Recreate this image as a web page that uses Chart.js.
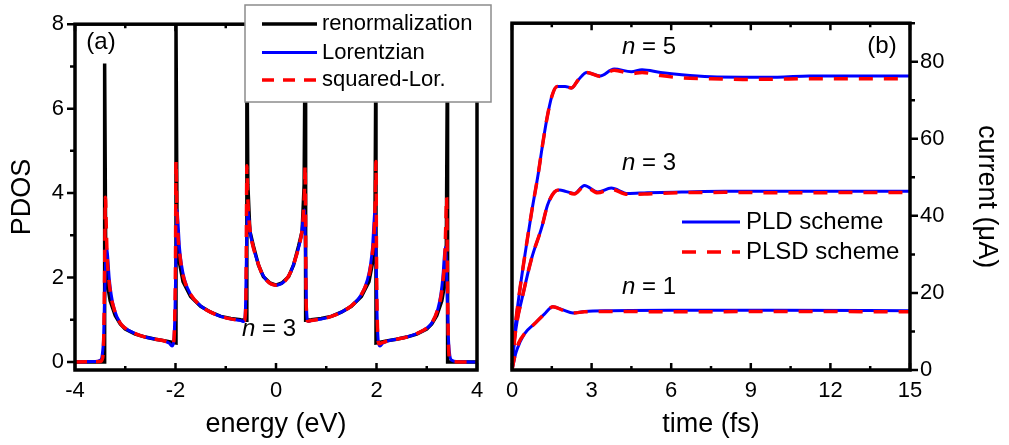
<!DOCTYPE html>
<html>
<head>
<meta charset="utf-8">
<script src="https://cdn.jsdelivr.net/npm/chart.js@4.4.0/dist/chart.umd.min.js"></script>
<style>
  html, body { margin: 0; padding: 0; background: #fff; }
  #wrap { position: relative; width: 1009px; height: 445px; }
  #boxA { position: absolute; left: 0; top: 0; width: 497px; height: 445px; }
  #boxB { position: absolute; left: 497px; top: 0; width: 512px; height: 445px; }
</style>
</head>
<body>
<div id="wrap">
  <div id="boxA"><canvas id="pdosChart"></canvas></div>
  <div id="boxB"><canvas id="currentChart"></canvas></div>
</div>
<script>
// ---- panel (a): PDOS vs energy, points are [energy (eV), PDOS] ----
const renormPts = [
  [-4.0, 0], [-3.42, 0], [-3.41, 0], [-3.41, 7.07], [-3.39, 2.8], [-3.35, 1.8], [-3.3, 1.45],
  [-3.2, 1.1], [-3.1, 0.9], [-3.0, 0.78], [-2.8, 0.66], [-2.6, 0.59], [-2.4, 0.54], [-2.2, 0.5],
  [-2.05, 0.46], [-1.99, 0.45], [-1.99, 8], [-1.97, 3.3], [-1.93, 2.4], [-1.85, 1.9], [-1.7, 1.55],
  [-1.5, 1.32], [-1.3, 1.18], [-1.1, 1.08], [-0.9, 1.03], [-0.7, 1.0], [-0.59, 0.99], [-0.58, 8],
  [-0.56, 4.2], [-0.52, 3.1], [-0.45, 2.75], [-0.35, 2.3], [-0.25, 2.02], [-0.12, 1.87], [0, 1.82],
  [0.12, 1.87], [0.25, 2.02], [0.35, 2.3], [0.45, 2.75], [0.52, 3.1], [0.56, 4.2], [0.58, 8],
  [0.59, 0.99], [0.7, 1.0], [0.9, 1.03], [1.1, 1.08], [1.3, 1.18], [1.5, 1.32], [1.7, 1.55],
  [1.85, 1.9], [1.93, 2.4], [1.97, 3.3], [1.99, 8], [1.99, 0.45], [2.05, 0.46], [2.2, 0.5],
  [2.4, 0.54], [2.6, 0.59], [2.8, 0.66], [3.0, 0.78], [3.1, 0.9], [3.2, 1.1], [3.3, 1.45],
  [3.35, 1.8], [3.39, 2.8], [3.41, 7.07], [3.41, 0], [3.42, 0], [4.0, 0]
];
const lorentzPts = [
  [-4.0, 0], [-3.6, 0.01], [-3.5, 0.04], [-3.46, 0.15], [-3.43, 0.6], [-3.41, 1.5], [-3.39, 2.4],
  [-3.37, 2.72], [-3.35, 2.5], [-3.32, 2.0], [-3.28, 1.6], [-3.22, 1.25], [-3.1, 0.92], [-3.0, 0.8],
  [-2.8, 0.67], [-2.6, 0.59], [-2.4, 0.54], [-2.2, 0.49], [-2.12, 0.44], [-2.07, 0.38], [-2.04, 0.45],
  [-2.01, 1.2], [-1.99, 2.6], [-1.97, 3.6], [-1.95, 3.3], [-1.92, 2.7], [-1.88, 2.3], [-1.82, 1.95],
  [-1.7, 1.6], [-1.5, 1.33], [-1.3, 1.18], [-1.1, 1.08], [-0.9, 1.02], [-0.7, 0.98], [-0.64, 0.96],
  [-0.61, 1.2], [-0.59, 2.4], [-0.565, 3.6], [-0.54, 3.4], [-0.51, 3.05], [-0.47, 2.8], [-0.4, 2.5],
  [-0.3, 2.15], [-0.2, 1.95], [-0.1, 1.85], [0, 1.82], [0.1, 1.85], [0.2, 1.95], [0.3, 2.15],
  [0.4, 2.5], [0.47, 2.8], [0.51, 3.05], [0.54, 3.4], [0.565, 3.6], [0.59, 2.4], [0.61, 1.2],
  [0.64, 0.96], [0.7, 0.98], [0.9, 1.02], [1.1, 1.08], [1.3, 1.18], [1.5, 1.33], [1.7, 1.6],
  [1.82, 1.95], [1.88, 2.3], [1.92, 2.7], [1.95, 3.3], [1.97, 3.6], [1.99, 2.6], [2.01, 1.2],
  [2.04, 0.45], [2.07, 0.38], [2.12, 0.44], [2.2, 0.49], [2.4, 0.54], [2.6, 0.59], [2.8, 0.67],
  [3.0, 0.8], [3.1, 0.92], [3.22, 1.25], [3.28, 1.6], [3.32, 2.0], [3.35, 2.5], [3.37, 2.72],
  [3.39, 2.4], [3.41, 1.5], [3.43, 0.6], [3.46, 0.15], [3.5, 0.04], [3.6, 0.01], [4.0, 0]
];
const sqLorPts = [
  [-4.0, 0], [-3.5, 0.01], [-3.46, 0.06], [-3.43, 0.5], [-3.41, 2.2], [-3.395, 3.9], [-3.38, 3.3],
  [-3.36, 2.5], [-3.33, 2.0], [-3.29, 1.6], [-3.22, 1.25], [-3.1, 0.92], [-3.0, 0.8], [-2.8, 0.67],
  [-2.6, 0.59], [-2.4, 0.54], [-2.2, 0.49], [-2.1, 0.45], [-2.05, 0.43], [-2.02, 0.8], [-2.0, 2.5],
  [-1.99, 4.75], [-1.975, 3.8], [-1.95, 3.0], [-1.91, 2.5], [-1.86, 2.1], [-1.8, 1.85], [-1.7, 1.6],
  [-1.5, 1.33], [-1.3, 1.18], [-1.1, 1.08], [-0.9, 1.02], [-0.7, 0.98], [-0.63, 0.97], [-0.6, 1.4],
  [-0.59, 3.0], [-0.58, 4.65], [-0.565, 4.0], [-0.54, 3.4], [-0.51, 3.05], [-0.47, 2.8], [-0.4, 2.5],
  [-0.3, 2.15], [-0.2, 1.95], [-0.1, 1.85], [0, 1.82], [0.1, 1.85], [0.2, 1.95], [0.3, 2.15],
  [0.4, 2.5], [0.47, 2.8], [0.51, 3.05], [0.54, 3.4], [0.565, 4.0], [0.58, 4.65], [0.59, 3.0],
  [0.6, 1.4], [0.63, 0.97], [0.7, 0.98], [0.9, 1.02], [1.1, 1.08], [1.3, 1.18], [1.5, 1.33],
  [1.7, 1.6], [1.8, 1.85], [1.86, 2.1], [1.91, 2.5], [1.95, 3.0], [1.975, 3.8], [1.99, 4.75],
  [2.0, 2.5], [2.02, 0.8], [2.05, 0.43], [2.1, 0.45], [2.2, 0.49], [2.4, 0.54], [2.6, 0.59],
  [2.8, 0.67], [3.0, 0.8], [3.1, 0.92], [3.22, 1.25], [3.29, 1.6], [3.33, 2.0], [3.36, 2.5],
  [3.38, 3.3], [3.395, 3.9], [3.41, 2.2], [3.43, 0.5], [3.46, 0.06], [3.5, 0.01], [4.0, 0]
];
const energyTicks = [-4, -2, 0, 2, 4];
const energyMinor = [-3, -1, 1, 3];
const pdosTicks = [0, 2, 4, 6, 8];
const pdosMinor = [1, 3, 5, 7];

// ---- panel (b): current vs time, points are [time (fs), current (uA)] ----
const pld5 = [
  [0, 0], [0.12, 11], [0.24, 18], [0.49, 30], [0.74, 41], [0.99, 51], [1.12, 57], [1.31, 65],
  [1.5, 71], [1.7, 73.6], [2.0, 73.6], [2.24, 73.2], [2.5, 75.3], [2.82, 77.2], [3.32, 76.3],
  [3.85, 78.1], [4.5, 77.4], [4.9, 77.9], [5.6, 77.2], [6.4, 76.6], [7.5, 76.1], [8.7, 76.0],
  [10.0, 76.0], [11.2, 76.3], [13.0, 76.3], [15.0, 76.3]
];
const plsd5 = [
  [0, 0], [0.12, 11], [0.24, 18], [0.49, 30], [0.74, 41], [0.99, 51], [1.12, 57], [1.31, 65],
  [1.5, 71], [1.7, 73.6], [2.0, 73.6], [2.24, 73.2], [2.5, 75.3], [2.82, 77.2], [3.32, 76.2],
  [3.85, 77.8], [4.5, 76.9], [4.9, 77.2], [5.6, 76.4], [6.4, 75.8], [7.5, 75.6], [8.7, 75.4],
  [10.0, 75.5], [11.2, 75.6], [13.0, 75.6], [15.0, 75.6]
];
const pld3 = [
  [0, 0], [0.1, 8], [0.2, 13], [0.36, 18], [0.74, 29], [1.12, 37], [1.34, 42.8], [1.6, 46.2],
  [1.8, 46.7], [2.0, 46.4], [2.35, 45.8], [2.73, 47.9], [3.23, 46.2], [3.74, 47.2], [4.36, 45.8],
  [5.1, 46.0], [6.4, 46.2], [8.0, 46.4], [10.0, 46.4], [15.0, 46.4]
];
const plsd3 = [
  [0, 0], [0.1, 8], [0.2, 13], [0.36, 18], [0.74, 29], [1.12, 37], [1.34, 42.8], [1.6, 46.2],
  [1.8, 46.7], [2.0, 46.4], [2.35, 45.7], [2.73, 47.7], [3.23, 46.0], [3.74, 46.9], [4.36, 45.6],
  [5.1, 45.7], [6.4, 46.0], [8.0, 46.1], [10.0, 46.0], [15.0, 46.1]
];
const pld1 = [
  [0, 0], [0.15, 4.5], [0.3, 7.2], [0.47, 9.4], [0.85, 12], [1.22, 14.5], [1.54, 16.4],
  [1.92, 15.6], [2.3, 14.8], [2.74, 15.2], [3.74, 15.4], [6.0, 15.5], [10.0, 15.5], [15.0, 15.4]
];
const plsd1 = [
  [0, 0], [0.1, 3.5], [0.25, 7.0], [0.47, 9.4], [0.85, 12], [1.22, 14.5], [1.54, 16.4],
  [1.92, 15.5], [2.3, 14.8], [2.74, 15.1], [3.74, 15.2], [6.0, 15.1], [10.0, 15.2], [15.0, 15.1]
];
const timeTicks = [0, 3, 6, 9, 12, 15];
const timeMinor = [1.5, 4.5, 7.5, 10.5, 13.5];
const currentTicks = [0, 20, 40, 60, 80];
const currentMinor = [10, 30, 50, 70, 90];

const FONT = "'Liberation Sans', Arial, sans-serif";
Chart.defaults.font.family = FONT;
Chart.defaults.color = '#000';

const BLUE = '#0000ff', RED = '#ff0000', BLACK = '#000000';
const xy = pts => pts.map(p => ({ x: p[0], y: p[1] }));

// frame + tick marks (x inward, y outward) drawn from the scales
function frameTicks(opts) {
  return {
    id: 'frameTicks',
    afterDatasetsDraw(chart) {
      const { ctx, chartArea: a, scales } = chart;
      const xs = scales.x, ys = scales.y;
      ctx.save();
      ctx.strokeStyle = BLACK;
      ctx.lineWidth = 2.5;
      ctx.beginPath();
      const xt = (vals, len) => vals.forEach(v => {
        const px = xs.getPixelForValue(v);
        ctx.moveTo(px, a.bottom); ctx.lineTo(px, a.bottom - len);
        ctx.moveTo(px, a.top); ctx.lineTo(px, a.top + len);
      });
      xt(opts.xMajor, 7);
      xt(opts.xMinor, 4);
      const yt = (vals, len) => vals.forEach(v => {
        const py = ys.getPixelForValue(v);
        if (opts.ySide === 'left') { ctx.moveTo(a.left, py); ctx.lineTo(a.left - len, py); }
        else { ctx.moveTo(a.right, py); ctx.lineTo(a.right + len, py); }
      });
      yt(opts.yMajor, 8);
      yt(opts.yMinor, 5);
      ctx.stroke();
      ctx.lineWidth = 3.5;
      ctx.strokeRect(a.left, a.top, a.right - a.left, a.bottom - a.top);
      ctx.restore();
    }
  };
}

function italicLabel(ctx, x, y, num) {
  ctx.font = 'italic 24px ' + FONT;
  ctx.textAlign = 'left';
  ctx.textBaseline = 'middle';
  ctx.fillStyle = BLACK;
  ctx.fillText('n', x, y);
  const w = ctx.measureText('n').width;
  ctx.font = '24px ' + FONT;
  ctx.fillText(' = ' + num, x + w, y);
}

function legendRow(ctx, ds, x0, x1, y, tx, size) {
  ctx.save();
  ctx.strokeStyle = ds.borderColor;
  ctx.lineWidth = ds.borderWidth;
  ctx.setLineDash(ds.borderDash || []);
  ctx.beginPath();
  ctx.moveTo(x0, y); ctx.lineTo(x1, y);
  ctx.stroke();
  ctx.restore();
  ctx.font = size + 'px ' + FONT;
  ctx.fillStyle = BLACK;
  ctx.textAlign = 'left';
  ctx.textBaseline = 'middle';
  ctx.fillText(ds.label, tx, y);
}

const notesA = {
  id: 'notesA',
  afterDraw(chart) {
    const ctx = chart.ctx;
    const ds = chart.data.datasets;
    ctx.save();
    ctx.font = '24px ' + FONT;
    ctx.fillStyle = BLACK;
    ctx.textAlign = 'center';
    ctx.textBaseline = 'middle';
    ctx.fillText('(a)', 101, 42);
    italicLabel(ctx, 242, 329, '3');
    // legend box
    ctx.fillStyle = '#ffffff';
    ctx.fillRect(245, 5, 246, 97);
    ctx.strokeStyle = '#8c8c8c';
    ctx.lineWidth = 1.5;
    ctx.strokeRect(245, 5, 246, 97);
    legendRow(ctx, ds[0], 262, 317, 24, 322, 22);
    legendRow(ctx, ds[1], 262, 317, 52.5, 322, 22);
    legendRow(ctx, ds[2], 262, 317, 80, 322, 22);
    ctx.restore();
  }
};

const notesB = {
  id: 'notesB',
  afterDraw(chart) {
    const ctx = chart.ctx;
    const ds = chart.data.datasets;
    ctx.save();
    ctx.font = '24px ' + FONT;
    ctx.fillStyle = BLACK;
    ctx.textAlign = 'center';
    ctx.textBaseline = 'middle';
    ctx.fillText('(b)', 385, 46);
    italicLabel(ctx, 125, 47, '5');
    italicLabel(ctx, 125, 163, '3');
    italicLabel(ctx, 125, 287, '1');
    legendRow(ctx, ds[0], 185, 243, 222, 249, 24);
    legendRow(ctx, ds[1], 185, 243, 252, 249, 24);
    ctx.restore();
  }
};

const tickFont = { size: 22 };
const titleFont = { size: 27 };

new Chart('pdosChart', {
  type: 'line',
  data: {
    datasets: [
      { label: 'renormalization', data: xy(renormPts), borderColor: BLACK, borderWidth: 3.5, tension: 0, order: 2 },
      { label: 'Lorentzian', data: xy(lorentzPts), borderColor: BLUE, borderWidth: 3, cubicInterpolationMode: 'monotone', order: 1 },
      { label: 'squared-Lor.', data: xy(sqLorPts), borderColor: RED, borderWidth: 3.5, borderDash: [12, 9], cubicInterpolationMode: 'monotone', order: 0 }
    ]
  },
  options: {
    responsive: true,
    maintainAspectRatio: false,
    animation: false,
    elements: { point: { radius: 0 } },
    layout: { padding: { top: 20, right: 20, left: 0, bottom: 0 } },
    plugins: { legend: { display: false }, tooltip: { enabled: false } },
    scales: {
      x: {
        type: 'linear', min: -4, max: 4,
        afterBuildTicks: s => { s.ticks = energyTicks.map(v => ({ value: v })); },
        afterFit: s => { s.height = 75; },
        grid: { display: false, drawTicks: false },
        border: { display: false },
        ticks: { padding: 8, font: tickFont, color: BLACK, maxRotation: 0, autoSkip: false },
        title: { display: true, text: 'energy (eV)', font: titleFont, color: BLACK, padding: { top: 0, bottom: 4 } }
      },
      y: {
        type: 'linear', min: -0.19, max: 8,
        afterBuildTicks: s => { s.ticks = pdosTicks.map(v => ({ value: v })); },
        afterFit: s => { s.width = 75; },
        grid: { display: false, drawTicks: false },
        border: { display: false },
        ticks: { padding: 11, font: tickFont, color: BLACK, autoSkip: false },
        title: { display: true, text: 'PDOS', font: titleFont, color: BLACK, padding: { top: 6, bottom: 0 } }
      }
    }
  },
  plugins: [frameTicks({ xMajor: energyTicks, xMinor: energyMinor, yMajor: pdosTicks, yMinor: pdosMinor, ySide: 'left' }), notesA]
});

new Chart('currentChart', {
  type: 'line',
  data: {
    datasets: [
      { label: 'PLD scheme', data: xy(pld5), borderColor: BLUE, borderWidth: 3, cubicInterpolationMode: 'monotone', order: 1 },
      { label: 'PLSD scheme', data: xy(plsd5), borderColor: RED, borderWidth: 3.5, borderDash: [14, 11], cubicInterpolationMode: 'monotone', order: 0 },
      { label: 'PLD n=3', data: xy(pld3), borderColor: BLUE, borderWidth: 3, cubicInterpolationMode: 'monotone', order: 1 },
      { label: 'PLSD n=3', data: xy(plsd3), borderColor: RED, borderWidth: 3.5, borderDash: [14, 11], cubicInterpolationMode: 'monotone', order: 0 },
      { label: 'PLD n=1', data: xy(pld1), borderColor: BLUE, borderWidth: 3, cubicInterpolationMode: 'monotone', order: 1 },
      { label: 'PLSD n=1', data: xy(plsd1), borderColor: RED, borderWidth: 3.5, borderDash: [14, 11], cubicInterpolationMode: 'monotone', order: 0 }
    ]
  },
  options: {
    responsive: true,
    maintainAspectRatio: false,
    animation: false,
    elements: { point: { radius: 0 } },
    layout: { padding: { top: 20, right: 0, left: 15, bottom: 0 } },
    plugins: { legend: { display: false }, tooltip: { enabled: false } },
    scales: {
      x: {
        type: 'linear', min: 0, max: 15,
        afterBuildTicks: s => { s.ticks = timeTicks.map(v => ({ value: v })); },
        afterFit: s => { s.height = 75; },
        grid: { display: false, drawTicks: false },
        border: { display: false },
        ticks: { padding: 8, font: tickFont, color: BLACK, maxRotation: 0, autoSkip: false },
        title: { display: true, text: 'time (fs)', font: titleFont, color: BLACK, padding: { top: 0, bottom: 4 } }
      },
      y: {
        type: 'linear', position: 'right', min: 0, max: 90,
        afterBuildTicks: s => { s.ticks = currentTicks.map(v => ({ value: v })); },
        afterFit: s => { s.width = 99; },
        grid: { display: false, drawTicks: false },
        border: { display: false },
        ticks: { padding: 10, font: tickFont, color: BLACK, autoSkip: false },
        title: { display: true, text: 'current (μA)', font: titleFont, color: BLACK, padding: { top: 6, bottom: 0 } }
      }
    }
  },
  plugins: [frameTicks({ xMajor: timeTicks, xMinor: timeMinor, yMajor: currentTicks, yMinor: currentMinor, ySide: 'right' }), notesB]
});
</script>
</body>
</html>
